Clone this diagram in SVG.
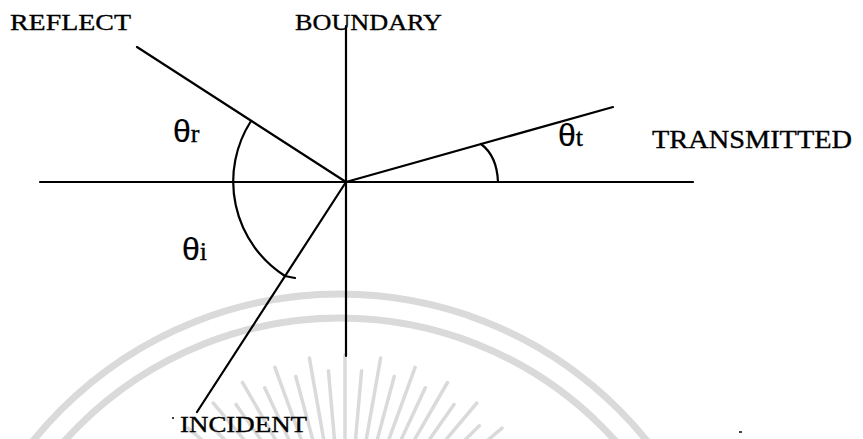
<svg xmlns="http://www.w3.org/2000/svg" width="863" height="439" viewBox="0 0 863 439">
<style>
.ln{stroke:#000;stroke-width:2.2;fill:none;stroke-linecap:round}
.lbl{font-family:"Liberation Serif","Times New Roman",serif;fill:#000;stroke:#000;stroke-width:0.35}
.th{font-family:"Liberation Sans",Arial,sans-serif;font-size:32px;stroke-width:0.2}
.sub{font-family:"Liberation Serif","Times New Roman",serif;font-size:26px}
.wm{fill:none;stroke:#dadada}
</style>
<rect width="863" height="439" fill="#fff"/>
<g id="watermark">
<circle class="wm" cx="340" cy="688" r="394" stroke-width="7"/>
<circle class="wm" cx="340" cy="688" r="370" stroke-width="7"/>
<path class="wm" stroke-width="3.5" stroke-linecap="round" d="M345,355L345,460 M361.6,370.7L353.7,460.4 M328.4,370.7L336.3,460.4 M380.6,358.1L362.4,461.5 M309.4,358.1L327.6,461.5 M394.2,376.5L370.9,463.4 M295.8,376.5L319.1,463.4 M415.1,367.4L379.2,466 M274.9,367.4L310.8,466 M425.3,387.8L387.3,469.4 M264.7,387.8L302.7,469.4 M447.5,382.5L395,473.4 M242.5,382.5L295,473.4 M454,404.4L402.4,478.1 M236,404.4L287.6,478.1 M476.8,403L409.3,483.4 M213.2,403L280.7,483.4 M479.3,425.7L415.7,489.3 M210.7,425.7L274.3,489.3 M502,428.2L421.6,495.7 M188,428.2L268.4,495.7"/>
</g>
<g id="connectors">
<line class="ln" x1="40" y1="182" x2="693" y2="182"/>
<line class="ln" x1="346" y1="26" x2="346" y2="356" stroke-width="1.9"/>
<line class="ln" x1="137" y1="47" x2="346" y2="182"/>
<line class="ln" x1="346" y1="182" x2="613" y2="107"/>
<line class="ln" x1="346" y1="182" x2="197" y2="412"/>
</g>
<g id="angles">
<path class="ln" stroke-width="1.9" d="M251,121 A112,112 0 0 0 285,276 L295,278"/>
<path class="ln" stroke-width="1.9" d="M481,144 Q497,156 498,182"/>
</g>
<g id="reflect"><text class="lbl" x="10" y="30" font-size="24" textLength="121" lengthAdjust="spacingAndGlyphs">REFLECT</text></g>
<g id="boundary"><text class="lbl" x="295" y="30" font-size="24" textLength="147" lengthAdjust="spacingAndGlyphs">BOUNDARY</text></g>
<g id="transmitted"><text class="lbl" x="652" y="148" font-size="26" textLength="200" lengthAdjust="spacingAndGlyphs">TRANSMITTED</text></g>
<g id="incident">
<line x1="172" y1="418" x2="174" y2="418" stroke="#000" stroke-width="1.5"/>
<text class="lbl" x="180" y="432" font-size="24" textLength="127" lengthAdjust="spacingAndGlyphs">INCIDENT</text>
</g>
<g id="theta-r"><text class="lbl" x="173" y="142"><tspan class="th">θ</tspan><tspan class="sub">r</tspan></text></g>
<g id="theta-i"><text class="lbl" x="182" y="260"><tspan class="th">θ</tspan><tspan class="sub">i</tspan></text></g>
<g id="theta-t"><text class="lbl" x="558" y="146"><tspan class="th">θ</tspan><tspan class="sub">t</tspan></text></g>
<rect x="739" y="431" width="3" height="2" fill="#444"/>
</svg>
